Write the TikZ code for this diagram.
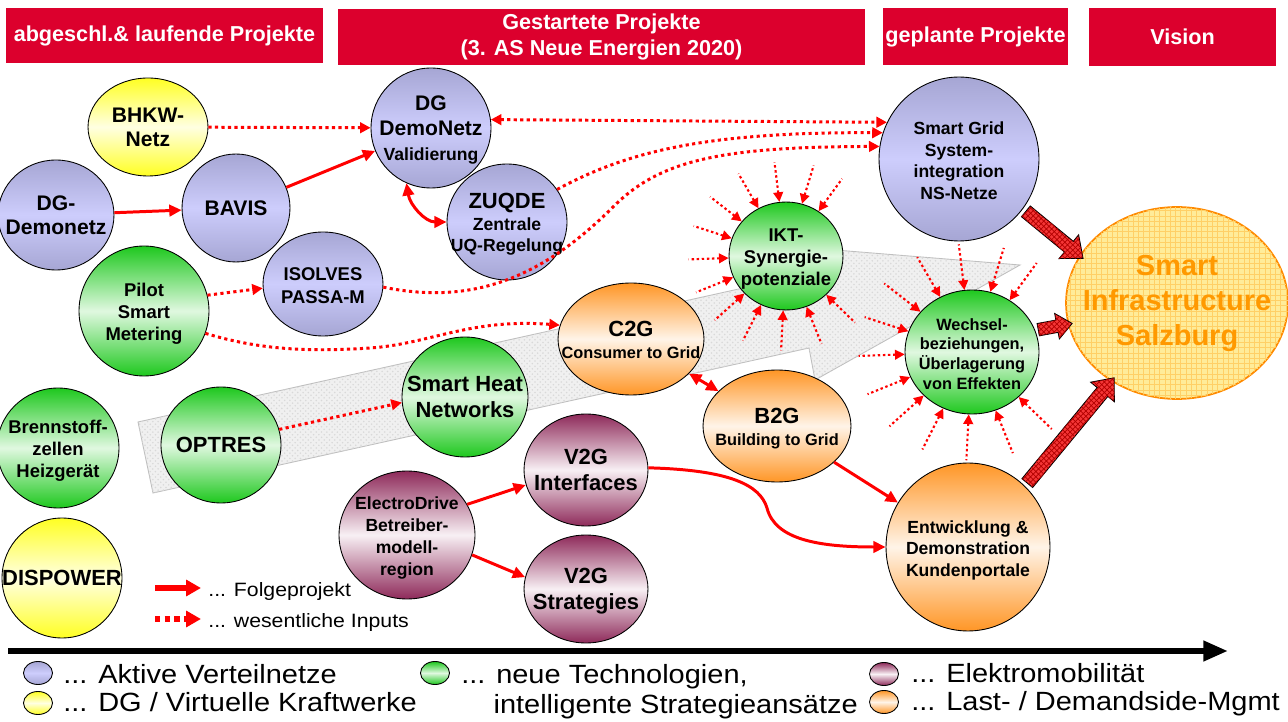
\documentclass[tikz,border=0pt]{standalone}
\usepackage{fontspec}
\setmainfont{Liberation Sans}
\newfontfamily\legfont[FakeStretch=1.1]{Liberation Sans}
\usetikzlibrary{positioning,shapes.geometric,shapes.arrows,arrows.meta,patterns}
\definecolor{HeadRed}{HTML}{DC002D}
\definecolor{BluEdge}{HTML}{A6A6D4}
\definecolor{BluMid}{HTML}{CDCDFC}
\definecolor{GrnEdge}{HTML}{1EC81E}
\definecolor{GrnMid}{HTML}{E0F8E0}
\definecolor{YelEdge}{HTML}{FFFF22}
\definecolor{YelMid}{HTML}{FFFFE2}
\definecolor{OrgEdge}{HTML}{FF9626}
\definecolor{OrgMid}{HTML}{FFF4E8}
\definecolor{PurEdge}{HTML}{8E2A5A}
\definecolor{PurMid}{HTML}{F8F0F4}
\definecolor{VisFill}{HTML}{FFEC99}
\definecolor{VisGrid}{HTML}{FFD066}
\definecolor{VisLine}{HTML}{FF8A00}
\definecolor{VisText}{HTML}{FF9900}
\definecolor{BigRed}{HTML}{F43636}
\newcommand{\fsz}[2]{\fontsize{#1}{#2}\selectfont}
% text of a bubble, kept out of the bubble's size
\newcommand{\blobtext}[1]{\makebox[0pt]{\smash{\raisebox{-4.5pt}{\begin{tabular}{@{}c@{}}#1\end{tabular}}}}}

\begin{document}
\begin{tikzpicture}[x=0.02cm,y=-0.02cm]
  \tikzstyle{head}=[fill=HeadRed,text=white,align=center,inner sep=0pt,
    font=\bfseries\fsz{12.3}{14.8}]
  \tikzstyle{blob}=[ellipse,draw=black,line width=0.5pt,inner sep=0pt,
    font=\bfseries\fsz{12}{14}]
  \tikzstyle{blu}=[blob,top color=BluEdge,bottom color=BluEdge,middle color=BluMid]
  \tikzstyle{grn}=[blob,top color=GrnEdge,bottom color=GrnEdge,middle color=GrnMid]
  \tikzstyle{yel}=[blob,top color=YelEdge,bottom color=YelEdge,middle color=YelMid]
  \tikzstyle{org}=[blob,top color=OrgEdge,bottom color=OrgEdge,middle color=OrgMid]
  \tikzstyle{pur}=[blob,top color=PurEdge,bottom color=PurEdge,middle color=PurMid]
  \tikzstyle{link}=[draw=red,line width=1.7pt,>={Triangle[length=7pt,width=6.5pt]},->]
  \tikzstyle{input}=[draw=red,line width=1.7pt,dash pattern=on 1.8pt off 1.9pt,
    >={Triangle[length=6pt,width=6pt]},->]
  \tikzstyle{ray}=[draw=red,line width=1.2pt,dash pattern=on 1.4pt off 1.5pt,
    >={Triangle[length=5.5pt,width=5.5pt]},<-]
  \tikzstyle{bigarrow}=[single arrow,draw=black,line width=0.5pt,fill=BigRed,
    postaction={pattern=crosshatch,pattern color=red!70!black},
    inner xsep=0pt,inner ysep=3.7pt,single arrow head extend=4.8pt,
    single arrow tip angle=80,sloped,midway]
  \tikzstyle{legtext}=[inner sep=0pt,anchor=base west,align=left,font=\legfont\fsz{15}{17}]
  \useasboundingbox (0,0) rectangle (1288,722);

  % background arrow
  \draw[fill=gray!12,draw=gray!50,line width=0.5pt,
    postaction={pattern=crosshatch dots,pattern color=gray!30}]
    (153,493) -- (809,348) -- (815,380) -- (1020,265) -- (786,246)
    -- (793,277) -- (138,422) -- cycle;

  % headers
  \node[head,minimum width=6.34cm,minimum height=1.1cm] (hd1) at (164.5,35.5) {abgeschl.\& laufende Projekte};
  \node[head,minimum width=10.54cm,minimum height=1.12cm] (hd2) at (601.5,37) {Gestartete Projekte\\(3. AS Neue Energien 2020)};
  \node[head,minimum width=3.7cm,minimum height=1.14cm] (hd3) at (975.5,36.5) {geplante Projekte};
  \node[head,minimum width=3.74cm,minimum height=1.16cm] (hd4) at (1182.5,37) {Vision};

  % projects
  \node[yel,minimum width=2.4cm,minimum height=1.96cm] (bhkw) at (148,127) {\blobtext{BHKW-\\Netz}};
  \node[blu,minimum width=2.32cm,minimum height=2.2cm] (dgnetz) at (56,215) {\blobtext{DG-\\Demonetz}};
  \node[blu,minimum width=2.16cm,minimum height=2.16cm] (bavis) at (236,208) {\blobtext{BAVIS}};
  \node[blu,minimum width=2.4cm,minimum height=2.4cm] (dgval) at (431,128) {\blobtext{DG\\DemoNetz\\\fsz{10}{12}Validierung}};
  \node[blu,minimum width=2.4cm,minimum height=2.32cm,font=\bfseries\fsz{10}{12}] (zuqde) at (507,222) {\blobtext{\fsz{12.5}{14}ZUQDE\\Zentrale\\UQ-Regelung}};
  \node[blu,minimum width=2.4cm,minimum height=2.08cm,font=\bfseries\fsz{10.5}{13}] (isolves) at (323,284) {\blobtext{ISOLVES\\PASSA-M}};
  \node[grn,minimum width=2.6cm,minimum height=2.6cm,font=\bfseries\fsz{10.5}{12.5}] (pilot) at (144,311) {\blobtext{Pilot\\Smart\\Metering}};
  \node[grn,minimum width=2.44cm,minimum height=2.4cm,font=\bfseries\fsz{10.5}{12.5}] (brenn) at (58,448) {\blobtext{Brennstoff-\\zellen\\Heizgerät}};
  \node[grn,minimum width=2.4cm,minimum height=2.32cm,font=\bfseries\fsz{12.5}{14}] (optres) at (221,445) {\blobtext{OPTRES}};
  \node[yel,minimum width=2.4cm,minimum height=2.4cm,font=\bfseries\fsz{12.5}{14}] (dispower) at (62,578) {\blobtext{DISPOWER}};
  \node[pur,minimum width=2.72cm,minimum height=2.56cm,font=\bfseries\fsz{10}{12.5}] (edrive) at (407,535) {\blobtext{ElectroDrive\\Betreiber-\\modell-\\region}};
  \node[pur,minimum width=2.48cm,minimum height=2.24cm,font=\bfseries\fsz{12.5}{14.5}] (v2gi) at (586,470) {\blobtext{V2G\\Interfaces}};
  \node[pur,minimum width=2.48cm,minimum height=2.16cm,font=\bfseries\fsz{12.5}{14.5}] (v2gs) at (586,589) {\blobtext{V2G\\Strategies}};
  \node[grn,minimum width=2.52cm,minimum height=2.4cm,font=\bfseries\fsz{12.5}{14.5}] (heat) at (465,397) {\blobtext{Smart Heat\\Networks}};
  \node[org,minimum width=2.92cm,minimum height=2.24cm,font=\bfseries\fsz{9.3}{12.5}] (c2g) at (631,339) {\blobtext{\fsz{12.5}{14}C2G\\Consumer to Grid}};
  \node[org,minimum width=2.96cm,minimum height=2.24cm,font=\bfseries\fsz{9.3}{12.5}] (b2g) at (777,426) {\blobtext{\fsz{12.5}{14}B2G\\Building to Grid}};
  \node[grn,minimum width=2.28cm,minimum height=2.16cm,font=\bfseries\fsz{10.5}{12.3}] (ikt) at (786,256) {\blobtext{IKT-\\Synergie-\\potenziale}};
  \node[grn,minimum width=2.68cm,minimum height=2.48cm,font=\bfseries\fsz{9.3}{11.3}] (wechsel) at (972,352) {\blobtext{Wechsel-\\beziehungen,\\Überlagerung\\von Effekten}};
  \node[blu,minimum width=3.2cm,minimum height=3.28cm,font=\bfseries\fsz{10}{12.3}] (sgrid) at (959,159) {\blobtext{Smart Grid\\System-\\integration\\NS-Netze}};
  \node[org,minimum width=3.28cm,minimum height=3.36cm,font=\bfseries\fsz{10}{12.3}] (entw) at (968,547) {\blobtext{Entwicklung \&\\Demonstration\\Kundenportale}};
  \node[ellipse,draw=VisLine,line width=1pt,fill=VisFill,
    postaction={pattern=grid,pattern color=VisGrid},
    minimum width=4.44cm,minimum height=3.84cm,inner sep=0pt,
    text=VisText,font=\bfseries\fsz{16.5}{19.8}] (vision) at (1177,303) {\blobtext{Smart\\Infrastructure\\Salzburg}};

  % Folgeprojekte
  \draw[link] (dgnetz) -- (bavis);
  \draw[link] (bavis) -- (dgval);
  \draw[link,<->] (dgval.246) .. controls (410,205) and (425,222) .. (zuqde.180);
  \draw[link,<->] (c2g) -- (b2g);
  \draw[link] (edrive.27) -- (v2gi.194);
  \draw[link] (edrive.-17) -- (v2gs.169);
  \draw[link] (b2g) -- (entw);
  \draw[link] (v2gi.2) .. controls (730,470) and (760,485) .. (767,508)
    .. controls (775,540) and (820,547) .. (entw.west);

  % wesentliche Inputs
  \draw[input] (bhkw) -- (dgval);
  \draw[input,<->] (dgval.8) -- (sgrid.153);
  \draw[input] (zuqde.33) .. controls (630,150) and (710,132) .. (sgrid.161);
  \draw[input] (isolves.-3) .. controls (470,305) and (540,280) .. (613,207)
    .. controls (660,160) and (720,147) .. (sgrid.171);
  \draw[input] (pilot.14) -- (isolves.184);
  \draw[input] (pilot.-20) .. controls (260,350) and (310,352) .. (370,348)
    .. controls (430,344) and (470,318) .. (c2g.169);
  \draw[input] (optres.15) -- (heat.185);
  \foreach \a in {54,73,97,120,142,162,182,202,222,243,267,292,316}{
    \draw[ray] (ikt.\a) -- ++(\a:0.8cm);
    \draw[ray] (wechsel.\a) -- ++(\a:0.92cm);
  }

  % into the vision
  \path (sgrid.-38) -- (vision.154) node[bigarrow,minimum height=1.48cm] (big1) {};
  \path (wechsel.19) -- (vision.191) node[bigarrow,minimum height=0.69cm,
    inner ysep=3.3pt,single arrow head extend=3.8pt] (big2) {};
  \path (entw.47) -- (vision.230) node[bigarrow,minimum height=2.73cm] (big3) {};

  % legend of connectors
  \coordinate (f0) at (155,588);
  \coordinate (f1) at (201,588);
  \coordinate (w0) at (155,619);
  \coordinate (w1) at (201,619);
  \draw[link,line width=3pt,>={Triangle[length=8.5pt,width=9pt]}] (f0) -- (f1);
  \draw[input,line width=3pt,dash pattern=on 3pt off 2.5pt,>={Triangle[length=8.5pt,width=9pt]}] (w0) -- (w1);
  \node[legtext,font=\legfont\fsz{11}{13}] (tf) at (208,597) {... Folgeprojekt};
  \node[legtext,font=\legfont\fsz{11}{13}] (tw) at (208,627) {... wesentliche Inputs};

  % time axis
  \coordinate (t0) at (8,651);
  \coordinate (t1) at (1228,651);
  \draw[line width=3.4pt,-{Triangle[length=14pt,width=11pt]}] (t0) -- (t1);

  % legend of colours
  \node[blu,minimum width=0.58cm,minimum height=0.46cm] (kblu) at (38,673) {};
  \node[yel,minimum width=0.58cm,minimum height=0.46cm] (kyel) at (38,703) {};
  \node[grn,minimum width=0.58cm,minimum height=0.46cm] (kgrn) at (435,673) {};
  \node[pur,minimum width=0.58cm,minimum height=0.46cm] (kpur) at (884,674) {};
  \node[org,minimum width=0.58cm,minimum height=0.46cm] (korg) at (884,702) {};
  \node[legtext] (tblu) at (63,683) {... Aktive Verteilnetze};
  \node[legtext] (tyel) at (63,711) {... DG / Virtuelle Kraftwerke};
  \node[legtext,anchor=north west] (tgrn) at (461,664) {... neue Technologien,\\\hphantom{...\ }intelligente Strategieansätze};
  \node[legtext] (tpur) at (911,682) {... Elektromobilität};
  \node[legtext] (torg) at (911,710) {... Last- / Demandside-Mgmt};
\end{tikzpicture}
\end{document}
